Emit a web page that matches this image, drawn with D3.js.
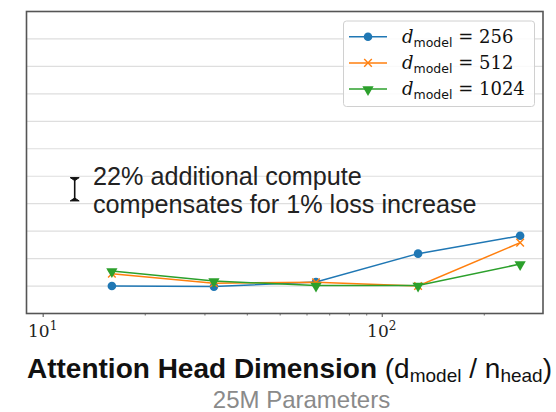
<!DOCTYPE html>
<html><head><meta charset="utf-8">
<script src="https://cdn.jsdelivr.net/npm/d3@7"></script>
<style>body{margin:0;background:#fff}</style>
</head><body><svg id="chart" width="556" height="412"></svg>
<script>
// Loss increase (%) versus attention head dimension, 25M-parameter models
const headDims = [16, 32, 64, 128, 256];
const modelWidths = ["256", "512", "1024"];
const lossDmodel256 = [0.0, -0.02, 0.15, 1.18, 1.83];
const lossDmodel512 = [0.45, 0.10, 0.14, 0.0, 1.58];
const lossDmodel1024 = [0.55, 0.18, 0.02, 0.02, 0.80];
const gridValues = [0, 1, 2, 3, 4, 5, 6, 7, 8, 9];
const majorTicks = [10, 100];
const majorTickLabels = [["10", "1"], ["10", "2"]];
const minorTicks = [20, 30, 40, 50, 60, 70, 80, 90, 200];
const computeBar = [3.10, 3.95];
const noteLines = ["22% additional compute", "compensates for 1% loss increase"];

const colors = ["#1f77b4", "#ff7f0e", "#2ca02c"];
const markers = ["circle", "x", "triangle"];
const series = [lossDmodel256, lossDmodel512, lossDmodel1024].map((vals, i) => ({
  name: modelWidths[i], color: colors[i], marker: markers[i],
  points: headDims.map((d, j) => ({ x: d, y: vals[j] }))
}));

const svg = d3.select("#chart");
const L = 26.5, R = 543, T = 11.5, B = 313.5;
const x = d3.scaleLog().domain([8.96, 299]).range([L, R]);
const y = d3.scaleLinear().domain([-1, 10]).range([B, T]);

// horizontal grid
svg.append("g").selectAll("line").data(gridValues).join("line")
  .attr("x1", L).attr("x2", R)
  .attr("y1", d => y(d)).attr("y2", d => y(d))
  .attr("stroke", "#dedede").attr("stroke-width", 1.2);

// x axis ticks
const xAxis = svg.append("g").attr("transform", `translate(0,${B})`);
xAxis.call(d3.axisBottom(x).tickValues(majorTicks).tickSize(3.5).tickFormat(""))
  .call(g => g.select(".domain").remove())
  .call(g => g.selectAll(".tick line").attr("stroke", "#333").attr("stroke-width", 0.9));
xAxis.append("g").call(d3.axisBottom(x).tickValues(minorTicks).tickSize(2).tickFormat(""))
  .call(g => g.select(".domain").remove())
  .call(g => g.selectAll(".tick line").attr("stroke", "#333").attr("stroke-width", 0.7));

// tick labels as powers of ten
const tl = svg.append("g").selectAll("text").data(majorTicks).join("text")
  .attr("x", d => x(d)).attr("y", B + 23)
  .attr("text-anchor", "middle")
  .attr("font-family", "DejaVu Serif, serif").attr("font-size", 17).attr("fill", "#222");
tl.append("tspan").text((d, i) => majorTickLabels[i][0]);
tl.append("tspan").attr("dy", -7).attr("font-size", 12).text((d, i) => majorTickLabels[i][1]);

// frame
svg.append("rect").attr("x", L).attr("y", T).attr("width", R - L).attr("height", B - T)
  .attr("fill", "none").attr("stroke", "#555").attr("stroke-width", 1.6);

// lines and markers
const line = d3.line().x(d => x(d.x)).y(d => y(d.y));
const tri = d3.symbol().type(d3.symbolTriangle).size(55);
function drawMarker(g, type, color, px, py) {
  if (type === "circle") {
    g.append("circle").attr("cx", px).attr("cy", py).attr("r", 4.3).attr("fill", color);
  } else if (type === "x") {
    const s = 3.8;
    g.append("path").attr("d", `M${px - s},${py - s}L${px + s},${py + s}M${px - s},${py + s}L${px + s},${py - s}`)
      .attr("stroke", color).attr("stroke-width", 1.4);
  } else {
    g.append("path").attr("d", tri()).attr("fill", color)
      .attr("transform", `translate(${px},${py + 0.5}) rotate(180)`);
  }
}
series.forEach(s => {
  const g = svg.append("g");
  g.append("path").datum(s.points).attr("d", line)
    .attr("fill", "none").attr("stroke", s.color).attr("stroke-width", 1.5);
  s.points.forEach(p => drawMarker(g, s.marker, s.color, x(p.x), y(p.y)));
});

// compute-equivalence bar
const bx = 74.7, cw = 4.5;
const bar = svg.append("g").attr("stroke", "#111");
bar.append("line").attr("x1", bx).attr("x2", bx).attr("y1", y(computeBar[0])).attr("y2", y(computeBar[1])).attr("stroke-width", 1.6);
bar.append("path").attr("d", `M${bx - cw},${y(computeBar[1])}L${bx + cw},${y(computeBar[1])}L${bx},${y(computeBar[1]) + 3}Z`).attr("fill", "#111").attr("stroke-width", 1);
bar.append("path").attr("d", `M${bx - cw},${y(computeBar[0])}L${bx + cw},${y(computeBar[0])}L${bx},${y(computeBar[0]) - 3}Z`).attr("fill", "#111").attr("stroke-width", 1);

const note = svg.append("text").attr("font-family", "Liberation Sans, Arial, sans-serif")
  .attr("font-size", 25.2).attr("fill", "#222");
note.selectAll("tspan").data(noteLines).join("tspan")
  .attr("x", 93).attr("y", (d, i) => 185 + i * 27.5).text(d => d);

// legend
const lg = svg.append("g");
lg.append("rect").attr("x", 343.5).attr("y", 21).attr("width", 191).attr("height", 85.5)
  .attr("rx", 3).attr("fill", "#fff").attr("fill-opacity", 0.85).attr("stroke", "#d0d0d0").attr("stroke-width", 1);
series.forEach((s, i) => {
  const ly = 36.7 + i * 26.2;
  lg.append("line").attr("x1", 349).attr("x2", 387).attr("y1", ly).attr("y2", ly)
    .attr("stroke", s.color).attr("stroke-width", 1.5);
  drawMarker(lg, s.marker, s.color, 368, ly);
  const t = lg.append("text").attr("x", 402).attr("y", ly + 6).attr("fill", "#111");
  t.append("tspan").attr("font-family", "DejaVu Serif, serif").attr("font-style", "italic").attr("font-size", 18).text("d");
  t.append("tspan").attr("font-family", "DejaVu Sans, sans-serif").attr("font-size", 12.5).attr("dy", 4).text("model");
  t.append("tspan").attr("font-family", "DejaVu Serif, serif").attr("font-size", 18).attr("dy", -4).text(" = " + s.name);
});

// axis title and subtitle
const title = svg.append("text").attr("x", 27).attr("y", 378)
  .attr("font-family", "Liberation Sans, Arial, sans-serif").attr("fill", "#111");
title.append("tspan").attr("font-weight", "bold").attr("font-size", 28).text("Attention Head Dimension ");
title.append("tspan").attr("font-size", 28).text("(d");
title.append("tspan").attr("font-size", 19).attr("dy", 4).text("model");
title.append("tspan").attr("font-size", 28).attr("dy", -4).text(" / n");
title.append("tspan").attr("font-size", 19).attr("dy", 4).text("head");
title.append("tspan").attr("font-size", 28).attr("dy", -4).text(")");

svg.append("text").attr("x", 301.5).attr("y", 408).attr("text-anchor", "middle")
  .attr("font-family", "Liberation Sans, Arial, sans-serif").attr("font-size", 24)
  .attr("fill", "#8a8a8a").text("25M Parameters");
</script></body></html>
